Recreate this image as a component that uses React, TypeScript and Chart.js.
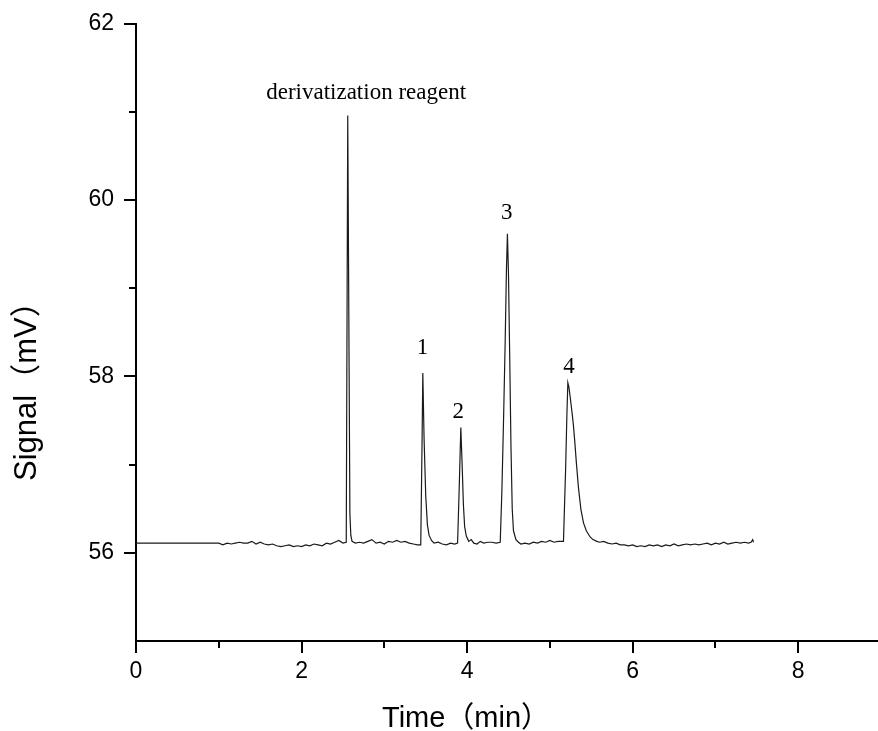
import React, { useEffect, useRef } from 'react';
import { Chart, registerables } from 'chart.js';

Chart.register(...registerables);

// Chromatogram trace (time in min, signal in mV)
const timeMin = [
  0, 1.0, 1.05, 1.1, 1.15, 1.2, 1.25, 1.3, 1.35, 1.4, 1.45, 1.5, 1.55, 1.6, 1.65, 1.7, 1.75, 1.8, 1.85, 1.9, 1.95,
  2.0, 2.05, 2.1, 2.15, 2.2, 2.25, 2.3, 2.35, 2.4, 2.45, 2.5, 2.54,
  2.558, 2.584, 2.595, 2.61,
  2.65, 2.7, 2.75, 2.8, 2.85, 2.9, 2.95, 3.0, 3.05, 3.1, 3.15, 3.2, 3.25, 3.3, 3.35, 3.4, 3.44,
  3.455, 3.465, 3.48, 3.5, 3.52, 3.54, 3.57,
  3.6, 3.65, 3.7, 3.75, 3.8, 3.85, 3.885,
  3.905, 3.924, 3.94, 3.955, 3.97, 3.99, 4.02,
  4.05, 4.08, 4.12, 4.16, 4.2, 4.25, 4.3, 4.35, 4.4,
  4.42, 4.44, 4.46, 4.475, 4.487, 4.5, 4.515, 4.53, 4.545, 4.56, 4.59, 4.62,
  4.65, 4.7, 4.75, 4.8, 4.85, 4.9, 4.95, 5.0, 5.05, 5.1, 5.164,
  5.19, 5.205, 5.217, 5.23, 5.25, 5.27, 5.285, 5.3, 5.32, 5.345, 5.375, 5.406, 5.44, 5.486, 5.52, 5.567,
  5.6, 5.65, 5.7, 5.75, 5.8, 5.85, 5.9, 5.95, 6.0, 6.05, 6.1, 6.15, 6.2, 6.25, 6.3, 6.35, 6.4, 6.45,
  6.5, 6.55, 6.6, 6.65, 6.7, 6.75, 6.8, 6.85, 6.9, 6.95, 7.0, 7.05, 7.1, 7.15, 7.2, 7.25, 7.3, 7.35,
  7.4, 7.43, 7.45, 7.46,
];
const signalMV = [
  56.11, 56.11, 56.09, 56.11, 56.1, 56.11, 56.12, 56.11, 56.11, 56.13, 56.1, 56.12, 56.1, 56.09, 56.1, 56.08, 56.07, 56.08, 56.09, 56.07, 56.08,
  56.07, 56.09, 56.08, 56.1, 56.09, 56.08, 56.11, 56.1, 56.12, 56.14, 56.11, 56.12,
  60.96, 56.45, 56.2, 56.13,
  56.11, 56.12, 56.11, 56.13, 56.15, 56.11, 56.12, 56.1, 56.13, 56.12, 56.14, 56.12, 56.13, 56.11, 56.1, 56.09, 56.09,
  57.2, 58.04, 57.3, 56.65, 56.32, 56.2, 56.14,
  56.11, 56.12, 56.1, 56.09, 56.11, 56.1, 56.11,
  56.75, 57.42, 57.0, 56.55, 56.3, 56.19, 56.13,
  56.15, 56.11, 56.1, 56.13, 56.11, 56.12, 56.12, 56.11, 56.12,
  56.7, 57.5, 58.4, 59.2, 59.62, 59.15, 58.2, 57.2, 56.5, 56.25, 56.15, 56.12,
  56.1, 56.11, 56.1, 56.12, 56.11, 56.13, 56.12, 56.14, 56.12, 56.13, 56.13,
  56.95, 57.55, 57.93, 57.88, 57.73, 57.57, 57.44, 57.27, 57.02, 56.74, 56.49, 56.34, 56.25, 56.18, 56.15, 56.13,
  56.12, 56.13, 56.11, 56.1, 56.11, 56.09, 56.09, 56.08, 56.09, 56.07, 56.08, 56.07, 56.09, 56.08, 56.09, 56.07, 56.09, 56.08,
  56.1, 56.08, 56.09, 56.1, 56.09, 56.1, 56.09, 56.1, 56.11, 56.09, 56.11, 56.1, 56.12, 56.1, 56.11, 56.12, 56.11, 56.12,
  56.11, 56.12, 56.15, 56.12,
];

const xMajorTicks = [0, 2, 4, 6, 8];
const xMinorTicks = [1, 3, 5, 7, 9];
const yMajorTicks = [56, 58, 60, 62];
const yMinorTicks = [57, 59, 61];

const peakLabels = ['derivatization reagent', '1', '2', '3', '4'];
const peakLabelX = [2.78, 3.46, 3.894, 4.478, 5.23];
const peakLabelY = [61.15, 58.26, 57.53, 59.79, 58.04];

const xTitle = 'Time（min）';
const yTitle = 'Signal（mV）';

const SANS = '"Liberation Sans", Arial, "Noto Sans CJK SC", sans-serif';
const SERIF = '"Liberation Serif", "Times New Roman", serif';

const overlayPlugin = {
  id: 'overlay',
  afterDraw(chart: any) {
    const ctx = chart.ctx;
    const xs = chart.scales.x;
    const ys = chart.scales.y;
    const area = chart.chartArea;
    ctx.save();
    ctx.strokeStyle = '#000';
    ctx.lineWidth = 2;
    // minor ticks
    for (const v of xMinorTicks) {
      if (v < xs.min || v > xs.max) continue;
      const px = Math.round(xs.getPixelForValue(v));
      ctx.beginPath();
      ctx.moveTo(px, area.bottom);
      ctx.lineTo(px, area.bottom + 7);
      ctx.stroke();
    }
    for (const v of yMinorTicks) {
      const py = Math.round(ys.getPixelForValue(v));
      ctx.beginPath();
      ctx.moveTo(area.left, py);
      ctx.lineTo(area.left - 7, py);
      ctx.stroke();
    }
    // peak labels
    ctx.fillStyle = '#000';
    ctx.font = '23px ' + SERIF;
    ctx.textAlign = 'center';
    ctx.textBaseline = 'alphabetic';
    peakLabels.forEach((t, i) => {
      ctx.fillText(t, xs.getPixelForValue(peakLabelX[i]), ys.getPixelForValue(peakLabelY[i]));
    });
    // axis titles
    ctx.font = '29px ' + SANS;
    ctx.textAlign = 'left';
    ctx.fillText(xTitle, area.left + 246, 726.5);
    ctx.font = '31px ' + SANS;
    ctx.translate(36, 481);
    ctx.rotate(-Math.PI / 2);
    ctx.fillText(yTitle, 0, 0);
    ctx.restore();
  },
};

export default function App() {
  const ref = useRef<HTMLCanvasElement | null>(null);
  useEffect(() => {
    if (!ref.current) return;
    const points = timeMin.map((t, i) => ({ x: t, y: signalMV[i] }));
    const chart = new Chart(ref.current, {
      type: 'line',
      data: {
        datasets: [
          {
            data: points,
            borderColor: '#1a1a1a',
            borderWidth: 1.2,
            pointRadius: 0,
            tension: 0,
            fill: false,
          },
        ],
      },
      options: {
        animation: false,
        responsive: false,
        devicePixelRatio: 1,
        layout: { padding: { left: 0, top: 23, right: 1, bottom: 0 } },
        plugins: { legend: { display: false }, tooltip: { enabled: false } },
        scales: {
          x: {
            type: 'linear',
            min: 0,
            max: 9,
            afterFit: (s: any) => { s.height = 90; },
            afterBuildTicks: (s: any) => { s.ticks = xMajorTicks.map((v) => ({ value: v })); },
            ticks: {
              color: '#000',
              font: { family: SANS, size: 23 },
              padding: 5,
              maxRotation: 0,
              callback: (v: any) => String(v),
            },
            grid: {
              drawOnChartArea: false,
              drawTicks: true,
              tickLength: 12,
              color: '#000',
              lineWidth: 2,
            },
            border: { display: true, color: '#000', width: 2 },
          },
          y: {
            type: 'linear',
            min: 55,
            max: 62,
            afterFit: (s: any) => { s.width = 136; },
            afterBuildTicks: (s: any) => { s.ticks = yMajorTicks.map((v) => ({ value: v })); },
            ticks: {
              color: '#000',
              font: { family: SANS, size: 23 },
              padding: 10,
              callback: (v: any) => String(v),
            },
            grid: {
              drawOnChartArea: false,
              drawTicks: true,
              tickLength: 12,
              color: '#000',
              lineWidth: 2,
            },
            border: { display: true, color: '#000', width: 2 },
          },
        },
      },
      plugins: [overlayPlugin],
    });
    return () => chart.destroy();
  }, []);
  return (
    <div style={{ position: 'fixed', left: 0, top: 0, width: 878, height: 731, overflow: 'hidden', background: '#fff' }}>
      <canvas ref={ref} width={882} height={731} style={{ display: 'block' }} />
    </div>
  );
}
